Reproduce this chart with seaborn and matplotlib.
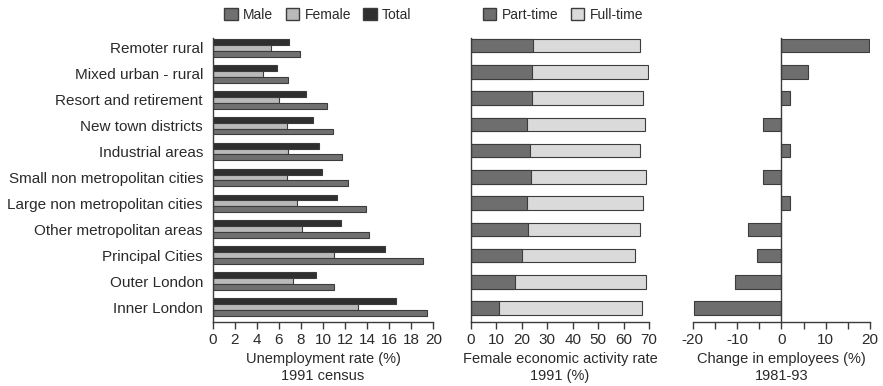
import matplotlib
matplotlib.use("Agg")
import matplotlib.pyplot as plt
from matplotlib.patches import Patch
from matplotlib.ticker import MultipleLocator
import pandas as pd
import seaborn as sns

# ---- data -------------------------------------------------------------
regions = [
    "Remoter rural", "Mixed urban - rural", "Resort and retirement",
    "New town districts", "Industrial areas", "Small non metropolitan cities",
    "Large non metropolitan cities", "Other metropolitan areas",
    "Principal Cities", "Outer London", "Inner London",
]

# Unemployment rate (%), 1991 census
unemp_male = [7.9, 6.8, 10.4, 10.9, 11.7, 12.3, 13.9, 14.2, 19.1, 11.0, 19.4]
unemp_female = [5.3, 4.6, 6.0, 6.7, 6.8, 6.7, 7.6, 8.1, 11.0, 7.3, 13.2]
unemp_total = [6.9, 5.8, 8.5, 9.1, 9.6, 9.9, 11.3, 11.6, 15.6, 9.4, 16.6]

# Female economic activity rate 1991 (%)
female_part_time = [24.3, 24.0, 23.9, 21.9, 23.1, 23.6, 22.0, 22.5, 20.1, 17.3, 11.0]
female_full_time = [42.3, 45.5, 43.7, 46.5, 43.5, 45.1, 45.5, 44.0, 44.4, 51.5, 56.2]

# Change in employees 1981-93 (%)
employee_change = [19.8, 6.0, 1.9, -4.1, 1.9, -4.1, 1.9, -7.5, -5.6, -10.5, -19.7]

# ---- style ------------------------------------------------------------
sns.set_style("ticks")
plt.rcParams["font.family"] = ["Liberation Sans", "DejaVu Sans"]
plt.rcParams["axes.unicode_minus"] = False

TEXT = "#2a2a2a"
EDGE = "#3c3c3c"
C_MALE = "#707070"
C_FEMALE = "#b9b9b9"
C_TOTAL = "#2f2f2f"
C_PART = "#6e6e6e"
C_FULL = "#dadada"
FS = 10.5

fig = plt.figure(figsize=(8.83, 3.86), dpi=100)
W, H = 883, 386


def box(x0, x1, y0=38.0, y1=321.7):
    return [x0 / W, 1 - y1 / H, (x1 - x0) / W, (y1 - y0) / H]


ax1 = fig.add_axes(box(212.7, 433.3))
ax2 = fig.add_axes(box(471.0, 649.0))
ax3 = fig.add_axes(box(692.7, 870.0))

# ---- panel 1: unemployment by sex ---------------------------------------
unemp = pd.DataFrame({
    "region": regions * 3,
    "rate": unemp_total + unemp_female + unemp_male,
    "group": ["Total"] * 11 + ["Female"] * 11 + ["Male"] * 11,
})
sns.barplot(
    data=unemp, y="region", x="rate", hue="group", order=regions,
    hue_order=["Total", "Female", "Male"],
    palette={"Male": C_MALE, "Female": C_FEMALE, "Total": C_TOTAL},
    orient="h", width=0.683, saturation=1, edgecolor=EDGE, linewidth=0.8,
    legend=False, ax=ax1,
)
ax1.set_xlim(0, 20)
ax1.set_ylim(10.565, -0.38)
ax1.xaxis.set_major_locator(MultipleLocator(2))
ax1.set_xlabel("Unemployment rate (%)\n1991 census")

# ---- panel 2: female activity, part-time + full-time stacked -------------
female_total = [p + f for p, f in zip(female_part_time, female_full_time)]
sns.barplot(x=female_total, y=regions, order=regions, orient="h", color=C_FULL,
            width=0.51, saturation=1, edgecolor=EDGE, linewidth=0.8, ax=ax2)
sns.barplot(x=female_part_time, y=regions, order=regions, orient="h", color=C_PART,
            width=0.51, saturation=1, edgecolor=EDGE, linewidth=0.8, ax=ax2)
ax2.set_xlim(0, 70)
ax2.set_ylim(10.52, -0.294)
ax2.xaxis.set_major_locator(MultipleLocator(10))
ax2.set_xlabel("Female economic activity rate\n1991 (%)")
ax2.set_yticklabels([])

# ---- panel 3: change in employees ---------------------------------------
sns.barplot(x=employee_change, y=regions, order=regions, orient="h", color=C_PART,
            width=0.51, saturation=1, edgecolor=EDGE, linewidth=0.8, ax=ax3)
ax3.set_xlim(-20, 20)
ax3.set_ylim(10.52, -0.294)
ax3.xaxis.set_major_locator(MultipleLocator(10))
ax3.xaxis.set_minor_locator(MultipleLocator(5))
ax3.spines["left"].set_position(("data", 0))
ax3.set_xlabel("Change in employees (%)\n1981-93")
ax3.set_yticklabels([])

# ---- common axis styling -------------------------------------------------
for ax in (ax1, ax2, ax3):
    sns.despine(ax=ax)
    for s in ("left", "bottom"):
        ax.spines[s].set_color(EDGE)
        ax.spines[s].set_linewidth(1.0)
    ax.set_ylabel("")
    ax.tick_params(axis="x", which="both", direction="out", length=5, width=1.0,
                   color=EDGE, labelsize=11, labelcolor=TEXT, pad=3)
    ax.tick_params(axis="y", length=0, labelsize=11, labelcolor=TEXT, pad=7)
    ax.xaxis.label.set_size(FS)
    ax.xaxis.label.set_color(TEXT)
    ax.xaxis.labelpad = 4
    ax.set_facecolor("none")

# nudge region names up to sit level with the bars' upper part
for lbl in ax1.get_yticklabels():
    lbl.set_verticalalignment("center_baseline")

# ---- legends -------------------------------------------------------------
leg_kw = dict(loc="center", ncol=3, frameon=False, fontsize=10,
              handlelength=0.95, handleheight=0.95, handletextpad=0.4,
              columnspacing=0.9, labelcolor=TEXT,
              bbox_transform=fig.transFigure)
ax1.legend(
    handles=[Patch(facecolor=C_MALE, edgecolor=EDGE, label="Male"),
             Patch(facecolor=C_FEMALE, edgecolor=EDGE, label="Female"),
             Patch(facecolor=C_TOTAL, edgecolor=EDGE, label="Total")],
    bbox_to_anchor=(318 / W, 1 - 15 / H), **leg_kw)
ax2.legend(
    handles=[Patch(facecolor=C_PART, edgecolor=EDGE, label="Part-time"),
             Patch(facecolor=C_FULL, edgecolor=EDGE, label="Full-time")],
    bbox_to_anchor=(563 / W, 1 - 15 / H), **leg_kw)

fig.savefig("out.png", dpi=100)
